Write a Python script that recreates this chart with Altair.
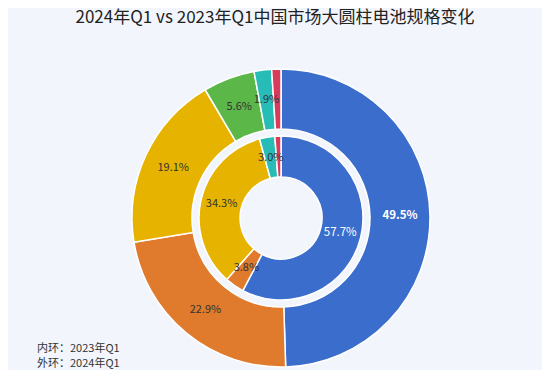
import altair as alt
import pandas as pd

categories = ["规格A", "规格B", "规格C", "规格D", "规格E", "规格F"]
colors = ["#3a6dcc", "#e07a2c", "#e6b300", "#5bb848", "#27bdb6", "#d93c5b"]
outer_values = [49.5, 22.9, 19.1, 5.6, 1.9, 1.0]   # 外环：2024年Q1
inner_values = [57.7, 3.8, 34.3, 0.0, 3.0, 1.2]    # 内环：2023年Q1
label_colors = ["white", "#333333", "#333333", "#333333", "#333333", "#333333"]
title_text = "2024年Q1 vs 2023年Q1中国市场大圆柱电池规格变化"
notes = ["内环：2023年Q1", "外环：2024年Q1"]

CX, CY = 273, 210
FONT = "Noto Sans CJK SC"


def make_df(vals):
    return pd.DataFrame({
        "cat": categories,
        "value": vals,
        "idx": list(range(len(vals))),
        "label": [f"{v:.1f}%" if v >= 1.5 else "" for v in vals],
        "tcolor": label_colors,
    })


df_out = make_df(outer_values)
df_in = make_df(inner_values)

cscale = alt.Scale(domain=categories, range=colors)


def ring(df, r_out, r_in, r_lab, bold_first):
    base = alt.Chart(df).encode(
        theta=alt.Theta("value:Q", stack=True),
        order=alt.Order("idx:Q"),
    )
    arc = base.mark_arc(radius=r_out, radius2=r_in, stroke="white", strokeWidth=1.5).encode(
        color=alt.Color("cat:N", scale=cscale, legend=None),
        x=alt.value(CX), y=alt.value(CY),
    )
    enc = dict(text="label:N", color=alt.Color("tcolor:N", scale=None),
               x=alt.value(CX), y=alt.value(CY))
    t_first = base.mark_text(radius=r_lab, fontSize=11.5, font=FONT,
                             fontWeight="bold" if bold_first else "normal").encode(
        **enc).transform_calculate(label="datum.idx == 0 ? datum.label : ''")
    t_rest = base.mark_text(radius=r_lab, fontSize=11, font=FONT).encode(
        **enc).transform_calculate(label="datum.idx == 0 ? '' : datum.label")
    return arc, t_first, t_rest


o_arc, o_t1, o_t2 = ring(df_out, 149, 89, 119, True)
i_arc, i_t1, i_t2 = ring(df_in, 82, 41, 61, False)

title = alt.Chart(pd.DataFrame({"t": [title_text]})).mark_text(
    fontSize=17, font=FONT, color="#222222", align="center", baseline="top"
).encode(text="t:N", x=alt.value(267), y=alt.value(2))

note1 = alt.Chart(pd.DataFrame({"t": [notes[0]]})).mark_text(
    fontSize=11, font=FONT, color="#333333", align="left", baseline="bottom"
).encode(text="t:N", x=alt.value(29), y=alt.value(346))
note2 = alt.Chart(pd.DataFrame({"t": [notes[1]]})).mark_text(
    fontSize=11, font=FONT, color="#333333", align="left", baseline="bottom"
).encode(text="t:N", x=alt.value(29), y=alt.value(361))

chart = alt.layer(o_arc, i_arc, o_t1, o_t2, i_t1, i_t2, title, note1, note2).properties(
    width=534, height=362, autosize=alt.AutoSizeParams(type="none"), padding=0,
    background="#f2f6fc",
).configure_view(stroke=None)

chart.save("out.html", embed_options={"renderer": "svg", "actions": False})
